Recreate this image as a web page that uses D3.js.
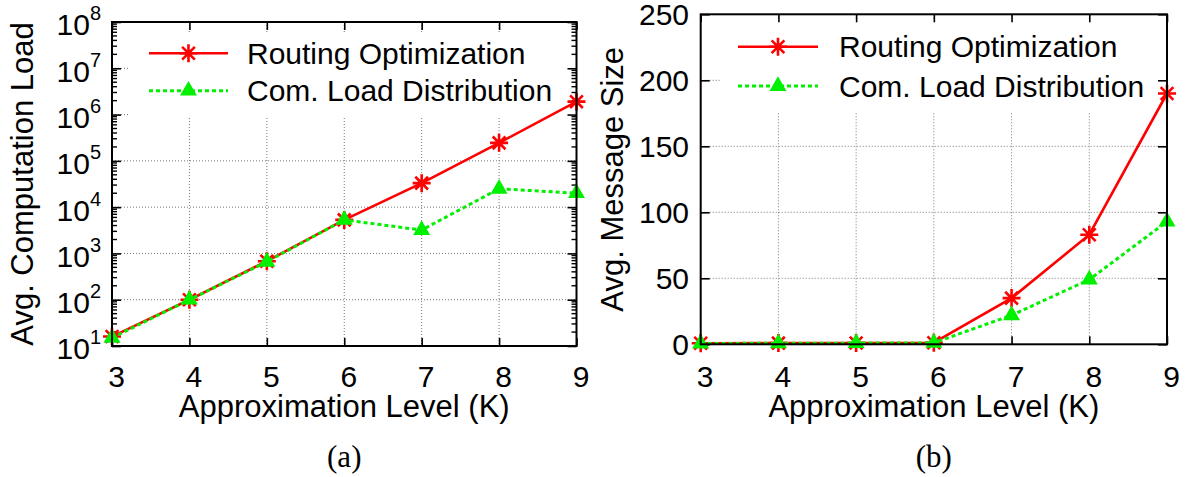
<!DOCTYPE html>
<html>
<head>
<meta charset="utf-8">
<script src="https://cdn.jsdelivr.net/npm/d3@7"></script>
<style>
  html, body { margin: 0; padding: 0; background: #fff; }
  svg { display: block; }
  text { font-family: "Liberation Sans", Arial, Helvetica, sans-serif; fill: #000; }
</style>
</head>
<body>
<svg id="chart" width="1192" height="477"></svg>
<script>
// Approximation levels on the x axis
const kLevels = [3, 4, 5, 6, 7, 8, 9];

// Panel (a): average computation load (log scale)
const routingLoad = [16, 100, 680, 5300, 33000, 245000, 1900000];
const comLoad     = [15, 100, 660, 5300, 3200, 25000, 20000];
const loadTicks   = [1, 2, 3, 4, 5, 6, 7, 8]; // exponents of 10

// Panel (b): average message size
const routingMsg = [0.8, 0.9, 1.0, 1.2, 35, 83, 190];
const comMsg     = [0.6, 0.8, 0.9, 1.1, 22, 49, 93];
const msgTicks   = [0, 50, 100, 150, 200, 250];

const seriesNames = ["Routing Optimization", "Com. Load Distribution"];
const captions = ["(a)", "(b)"];

const RED = "#ff0000";
const GREEN = "#00f000";
const FONT = 30;

const svg = d3.select("#chart");

function starPath(r) {
  const d = r * Math.SQRT1_2;
  return `M${-r},0L${r},0M0,${-r}L0,${r}M${-d},${-d}L${d},${d}M${-d},${d}L${d},${-d}`;
}
const triangle = d3.symbol().type(d3.symbolTriangle).size(125);

function drawPanel(cfg) {
  const g = svg.append("g");
  const { x, y, left, right, top, bottom } = cfg;

  // grid lines
  const grid = g.append("g").attr("stroke", "#777").attr("stroke-width", 1)
    .attr("stroke-dasharray", "1,2");
  grid.selectAll("line.v").data(kLevels.slice(1, -1)).join("line")
    .attr("x1", d => x(d)).attr("x2", d => x(d))
    .attr("y1", top).attr("y2", bottom);
  grid.selectAll("line.h").data(cfg.gridY).join("line")
    .attr("x1", left).attr("x2", right)
    .attr("y1", d => y(d)).attr("y2", d => y(d));

  // opaque key area
  g.append("rect")
    .attr("x", cfg.key.boxX0).attr("y", cfg.key.boxY0)
    .attr("width", cfg.key.boxX1 - cfg.key.boxX0)
    .attr("height", cfg.key.boxY1 - cfg.key.boxY0)
    .attr("fill", "#fff");

  // axes: inward ticks on all four sides
  const tickStyle = sel => sel.call(s => s.select(".domain").remove())
    .call(s => s.selectAll(".tick line").attr("stroke", "#000").attr("stroke-width", 1.6));

  // bottom labels
  const xb = g.append("g").attr("transform", `translate(0,${bottom})`)
    .call(d3.axisBottom(x).tickValues(kLevels).tickSize(-8).tickFormat(d3.format("d")))
    .call(tickStyle);
  xb.selectAll(".tick text").attr("y", cfg.xLabelOffset).attr("dy", 0).attr("dx", 4)
    .attr("font-size", FONT);
  // top mirror
  g.append("g").attr("transform", `translate(0,${top})`)
    .call(d3.axisTop(x).tickValues(kLevels).tickSize(-8).tickFormat(""))
    .call(tickStyle);

  // left axis with labels
  const yl = g.append("g").attr("transform", `translate(${left},0)`)
    .call(d3.axisLeft(y).tickValues(cfg.yTicks).tickSize(-9).tickPadding(cfg.yPad)
      .tickFormat(cfg.yFormat || d3.format("d")))
    .call(tickStyle);
  yl.selectAll(".tick text").attr("font-size", FONT).attr("dy", cfg.yDy);
  if (cfg.superscript) cfg.superscript(yl);
  // right mirror
  g.append("g").attr("transform", `translate(${right},0)`)
    .call(d3.axisRight(y).tickValues(cfg.yTicks).tickSize(-9).tickFormat(""))
    .call(tickStyle);

  // minor ticks
  if (cfg.minor) {
    [[left, 1], [right, -1]].forEach(([px, dir]) => {
      g.append("g").selectAll("line").data(cfg.minor).join("line")
        .attr("x1", px).attr("x2", px + dir * 5)
        .attr("y1", d => y(d)).attr("y2", d => y(d))
        .attr("stroke", "#000").attr("stroke-width", 1.4);
    });
  }

  // series
  const line = d3.line().x((d, i) => x(kLevels[i])).y(d => y(d));
  g.append("path").datum(cfg.s1).attr("d", line)
    .attr("fill", "none").attr("stroke", RED).attr("stroke-width", 2.6);
  g.append("g").selectAll("path").data(cfg.s1).join("path")
    .attr("transform", (d, i) => `translate(${x(kLevels[i])},${y(d)})`)
    .attr("d", starPath(9)).attr("stroke", RED).attr("stroke-width", 2.6).attr("fill", "none");

  g.append("path").datum(cfg.s2).attr("d", line)
    .attr("fill", "none").attr("stroke", GREEN).attr("stroke-width", 3)
    .attr("stroke-dasharray", "4,3");
  g.append("g").selectAll("path").data(cfg.s2).join("path")
    .attr("transform", (d, i) => `translate(${x(kLevels[i])},${y(d)})`)
    .attr("d", triangle).attr("fill", GREEN);

  // key
  const k = cfg.key;
  const rows = [k.y1, k.y2];
  g.append("line").attr("x1", k.lx0).attr("x2", k.lx1).attr("y1", rows[0]).attr("y2", rows[0])
    .attr("stroke", RED).attr("stroke-width", 2.6);
  g.append("path").attr("transform", `translate(${(k.lx0 + k.lx1) / 2},${rows[0]})`)
    .attr("d", starPath(9)).attr("stroke", RED).attr("stroke-width", 2.6).attr("fill", "none");
  g.append("line").attr("x1", k.lx0).attr("x2", k.lx1).attr("y1", rows[1]).attr("y2", rows[1])
    .attr("stroke", GREEN).attr("stroke-width", 3).attr("stroke-dasharray", "4,3");
  g.append("path").attr("transform", `translate(${(k.lx0 + k.lx1) / 2},${rows[1]})`)
    .attr("d", triangle).attr("fill", GREEN);
  g.selectAll("text.key").data(seriesNames).join("text").attr("class", "key")
    .attr("x", k.tx).attr("y", (d, i) => rows[i] + 10.5)
    .attr("font-size", FONT).text(d => d);

  // frame
  g.append("rect").attr("x", left).attr("y", top)
    .attr("width", right - left).attr("height", bottom - top)
    .attr("fill", "none").attr("stroke", "#000").attr("stroke-width", 2);

  // titles
  g.append("text").attr("x", (left + right) / 2).attr("y", cfg.xTitleY)
    .attr("text-anchor", "middle").attr("font-size", 31).text("Approximation Level (K)");
  g.append("text").attr("transform", `translate(${cfg.yTitleX},${(top + bottom) / 2}) rotate(-90)`)
    .attr("text-anchor", "middle").attr("font-size", 31).text(cfg.yTitle);
  g.append("text").attr("x", (left + right) / 2).attr("y", 467)
    .attr("text-anchor", "middle").attr("font-size", 31)
    .style("font-family", "'Liberation Serif', 'DejaVu Serif', serif")
    .text(cfg.caption);
}

// panel (a)
const xa = d3.scaleLinear().domain([3, 9]).range([112, 576.5]);
const ya = d3.scaleLog().domain([10, 1e8]).range([346, 22]);
const minorA = [];
for (let e = 1; e < 8; e++) for (let m = 2; m <= 9; m++) minorA.push(m * Math.pow(10, e));

drawPanel({
  x: xa, y: ya, left: 112, right: 576.5, top: 22, bottom: 346,
  yTicks: loadTicks.map(e => Math.pow(10, e)),
  gridY: loadTicks.slice(1, -1).map(e => Math.pow(10, e)),
  minor: minorA,
  yPad: 11, yDy: "0.43em",
  yFormat: () => "",
  superscript: sel => {
    sel.selectAll(".tick text").each(function (d) {
      const t = d3.select(this);
      t.append("tspan").text("10");
      t.append("tspan").attr("dy", -15).attr("font-size", 20).text(Math.round(Math.log10(d)));
    });
  },
  xLabelOffset: 41,
  xTitleY: 417,
  yTitleX: 33, yTitle: "Avg. Computation Load",
  s1: routingLoad, s2: comLoad,
  key: { boxX0: 130, boxX1: 575, boxY0: 33, boxY1: 117,
         lx0: 149, lx1: 228, y1: 53.3, y2: 90.7, tx: 247 },
  caption: captions[0]
});

// panel (b)
const xbS = d3.scaleLinear().domain([3, 9]).range([700.7, 1167]);
const ybS = d3.scaleLinear().domain([0, 250]).range([344.3, 14.3]);

drawPanel({
  x: xbS, y: ybS, left: 700.7, right: 1167, top: 14.3, bottom: 344.3,
  yTicks: msgTicks,
  gridY: msgTicks.slice(1, -1),
  minor: null,
  yPad: 11.7, yDy: "0.35em",
  xLabelOffset: 42.7,
  xTitleY: 417,
  yTitleX: 623, yTitle: "Avg. Message Size",
  s1: routingMsg, s2: comMsg,
  key: { boxX0: 720, boxX1: 1166, boxY0: 20, boxY1: 112,
         lx0: 738, lx1: 818, y1: 46.7, y2: 86, tx: 839 },
  caption: captions[1]
});
</script>
</body>
</html>
